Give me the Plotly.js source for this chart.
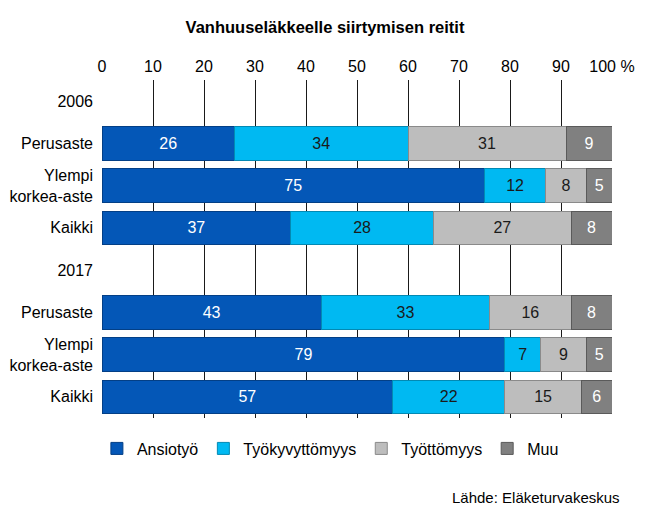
<!DOCTYPE html>
<html>
<head>
<meta charset="utf-8">
<script src="https://cdn.plot.ly/plotly-3.0.1.min.js"></script>
<style>
  html, body { margin: 0; padding: 0; background: #fff; }
  #chart { width: 650px; height: 518px; }
</style>
</head>
<body>
<div id="chart"></div>
<script>
// rows from top to bottom; the year rows stay empty
const rowLabels = ['2006', 'Perusaste', 'Ylempi<br>korkea-aste', 'Kaikki',
                   '2017', 'Perusaste', 'Ylempi<br>korkea-aste', 'Kaikki'];
const rowPos = [0, 1, 2, 3, 4, 5, 6, 7];

const seriesNames = ['Ansiotyö', 'Työkyvyttömyys', 'Työttömyys', 'Muu'];
const ansiotyo       = [null, 26, 75, 37, null, 43, 79, 57];
const tyokyvyttomyys = [null, 34, 12, 28, null, 33, 7, 22];
const tyottomyys     = [null, 31, 8, 27, null, 16, 9, 15];
const muu            = [null, 9, 5, 8, null, 8, 5, 6];

const xTicks = [0, 10, 20, 30, 40, 50, 60, 70, 80, 90, 100];
const xTickText = ['0', '10', '20', '30', '40', '50', '60', '70', '80', '90', '100 %'];

const fillColors = ['#0457b7', '#00b9f2', '#bdbdbd', '#808080'];
const lineColors = ['#033f86', '#0389b3', '#8a8a8a', '#5a5a5a'];
const textColors = ['#ffffff', '#1a1a1a', '#1a1a1a', '#ffffff'];

const font = 'Liberation Sans, Arial, sans-serif';

const values = [ansiotyo, tyokyvyttomyys, tyottomyys, muu];
const traces = values.map((v, i) => ({
    type: 'bar',
    orientation: 'h',
    name: seriesNames[i],
    x: v,
    y: rowPos,
    text: v.map(d => d === null ? '' : String(d)),
    textposition: 'inside',
    insidetextanchor: 'middle',
    constraintext: 'none',
    textfont: {family: font, size: 16, color: textColors[i]},
    marker: {color: fillColors[i], line: {color: lineColors[i], width: 1}},
    hoverinfo: 'name+x'
}));

const layout = {
    width: 650,
    height: 518,
    barmode: 'stack',
    bargap: 0.21,
    paper_bgcolor: '#ffffff',
    plot_bgcolor: '#ffffff',
    margin: {l: 102, r: 38, t: 80, b: 100},
    title: {
        text: '<b>Vanhuuseläkkeelle siirtymisen reitit</b>',
        font: {family: font, size: 16.5, color: '#000'},
        x: 0.5, xanchor: 'center',
        y: 0.947, yanchor: 'middle'
    },
    xaxis: {
        side: 'top',
        range: [0, 100],
        tickvals: xTicks,
        ticktext: xTickText,
        tickfont: {family: font, size: 16, color: '#000'},
        ticklabelstandoff: 4,
        showgrid: true,
        gridcolor: '#1a1a1a',
        gridwidth: 1,
        zeroline: false,
        showline: false,
        ticks: '',
        fixedrange: true
    },
    yaxis: {
        range: [7.5, -0.5],
        tickvals: rowPos,
        ticktext: rowLabels,
        tickfont: {family: font, size: 16, color: '#000'},
        ticklabelstandoff: 8,
        showgrid: false,
        zeroline: false,
        showline: false,
        ticks: '',
        fixedrange: true
    },
    legend: {
        orientation: 'h',
        x: -0.01, xanchor: 'left',
        y: -0.04, yanchor: 'top',
        font: {family: font, size: 16, color: '#000'},
        itemwidth: 30,
        traceorder: 'normal'
    },
    annotations: [{
        text: 'Lähde: Eläketurvakeskus',
        xref: 'paper', yref: 'paper',
        x: 1.02, xanchor: 'right',
        y: -0.235, yanchor: 'middle',
        showarrow: false,
        font: {family: font, size: 15, color: '#000'}
    }]
};

Plotly.newPlot('chart', traces, layout, {displayModeBar: false, staticPlot: true});
</script>
</body>
</html>
